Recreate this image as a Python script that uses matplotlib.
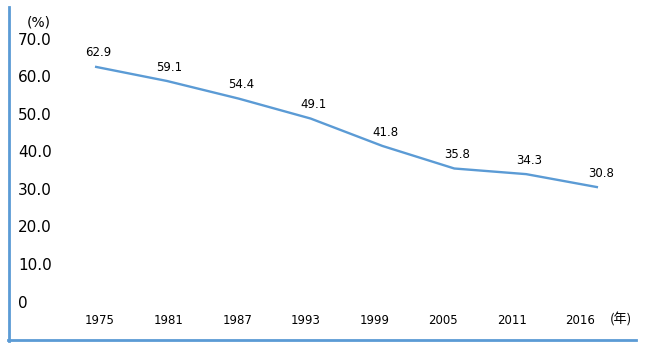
import matplotlib
matplotlib.use("Agg")
import matplotlib.pyplot as plt
from matplotlib.lines import Line2D
import matplotlib.transforms as mtransforms

years = ["1975", "1981", "1987", "1993", "1999", "2005", "2011", "2016"]
values = [62.9, 59.1, 54.4, 49.1, 41.8, 35.8, 34.3, 30.8]
yticks = [0, 10, 20, 30, 40, 50, 60, 70]
ytick_labels = ["0", "10.0", "20.0", "30.0", "40.0", "50.0", "60.0", "70.0"]

BLUE = "#5b9bd5"
W, H = 646, 346

fig = plt.figure(figsize=(W / 100, H / 100), dpi=100)
ax = fig.add_axes([0, 0, 1, 1])
ax.set_axis_off()

# pixel mapping: category i -> x = 95 + 71.86 i ; value v -> y_from_bottom = 43 + 3.757 v
dx, x0 = 71.86, 95.0
dy, y0 = 3.757, 43.0
ax.set_xlim(-x0 / dx, (W - x0) / dx)
ax.set_ylim(-y0 / dy, (H - y0) / dy)

xs = list(range(len(years)))
ax.plot(xs, values, color=BLUE, lw=1.7, solid_capstyle="butt")

for x, v in zip(xs, values):
    ax.annotate(f"{v:.1f}", xy=(x, v), xytext=(2, 10), textcoords="offset points",
                ha="center", va="center", fontsize=8.5, color="#000000")

# y tick labels (left aligned near frame)
ytr = mtransforms.blended_transform_factory(fig.transFigure, ax.transData)
for t, lab in zip(yticks, ytick_labels):
    ax.text(18 / W, t, lab, transform=ytr, ha="left", va="center",
            fontsize=11, color="#000000")

# x tick labels sit on a slightly tighter grid than the points
xtr = mtransforms.blended_transform_factory(ax.transData, fig.transFigure)
lab_step = 68.6 / dx
for i, lab in enumerate(years):
    ax.text(5 / dx + i * lab_step, 1 - 320 / H, lab, transform=xtr,
            ha="center", va="center", fontsize=8.5, color="#000000")

fig.text(27 / W, 1 - 22 / H, "(%)", ha="left", va="center", fontsize=10)
fig.text(621 / W, 1 - 320 / H, "(年)", ha="center", va="center", fontsize=9.5,
         family=["Noto Sans CJK JP", "DejaVu Sans"])

# frame lines
fig.add_artist(Line2D([9 / W, 9 / W], [1 - 7 / H, 1 - 341 / H],
                      transform=fig.transFigure, color=BLUE, lw=2))
fig.add_artist(Line2D([8 / W, 636 / W], [1 - 340 / H, 1 - 340 / H],
                      transform=fig.transFigure, color=BLUE, lw=2))

fig.savefig("out.png", dpi=100)
